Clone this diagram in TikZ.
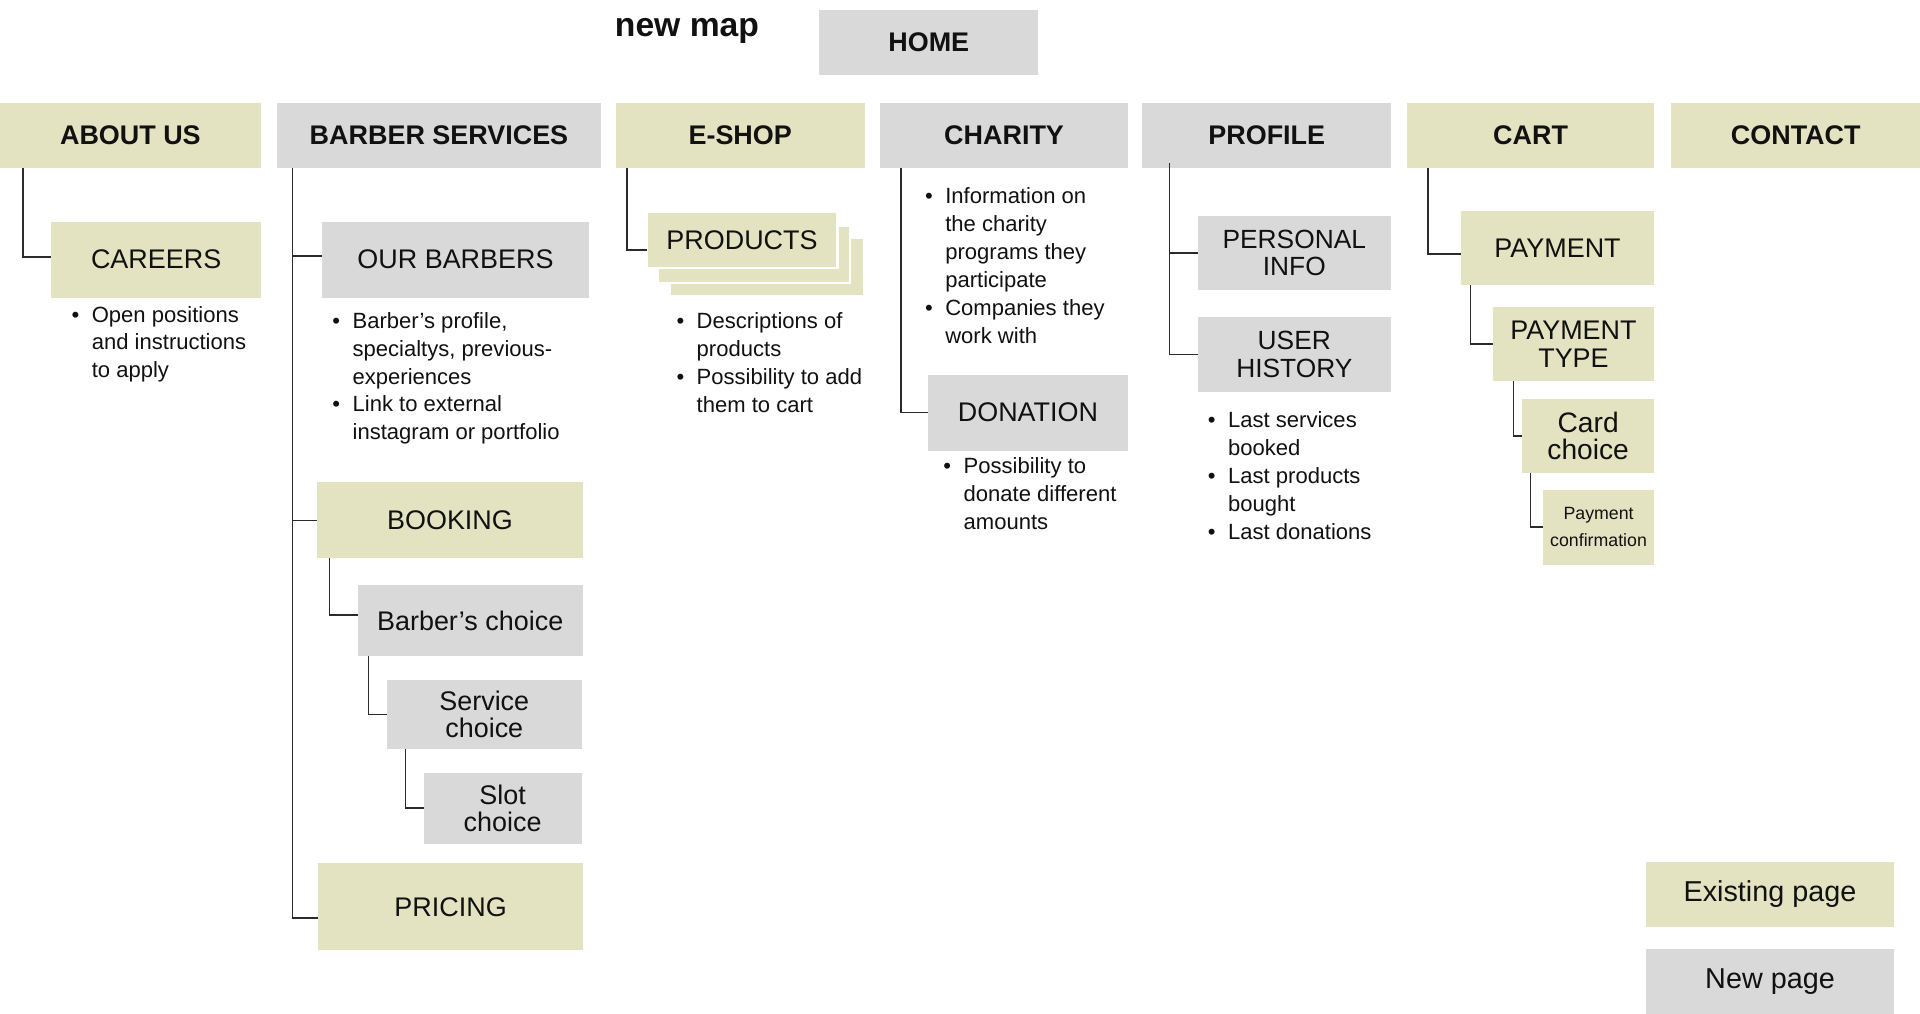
\documentclass[tikz,border=0pt]{standalone}
\usepackage{fontspec}
\setmainfont{Liberation Sans}
\usetikzlibrary{calc}
\definecolor{olive}{HTML}{E3E3C1}
\definecolor{greyc}{HTML}{D9D9D9}
\definecolor{ink}{HTML}{111111}
\definecolor{linec}{HTML}{2B2B2B}
\newcommand{\bulmark}{\makebox[16.5pt][l]{\textbullet}}
\begin{document}
\begin{tikzpicture}[x=1pt,y=-1pt,
  pg/.style={rectangle, inner sep=0pt, outer sep=0pt, anchor=north west, align=center, text=ink},
  oldpg/.style={pg, fill=olive},
  newpg/.style={pg, fill=greyc},
  hd/.style={font=\fontsize{22}{22}\selectfont\bfseries},
  lb/.style={font=\fontsize{22}{22.4}\selectfont},
  notes/.style={inner sep=0pt, outer sep=0pt, anchor=base west, text=ink, font=\fontsize{18}{22.8}\selectfont},
  wire/.style={draw=linec, line width=1.3pt}
]
\useasboundingbox[fill=white] (0,0) rectangle (1568,828);

% title and home
\node[anchor=base west, inner sep=0pt, text=ink, font=\fontsize{27.5}{28}\selectfont\bfseries] (title) at (502,29.4) {new map};
\node[newpg, hd, minimum width=179pt, minimum height=53pt] (home) at (669,8) {HOME};

% top row
\node[oldpg, hd, minimum width=213pt, minimum height=53pt] (about) at (0,84) {ABOUT US};
\node[newpg, hd, minimum width=265pt, minimum height=53pt] (barber) at (226,84) {BARBER SERVICES};
\node[oldpg, hd, minimum width=203pt, minimum height=53pt] (eshop) at (503,84) {E-SHOP};
\node[newpg, hd, minimum width=202pt, minimum height=53pt] (charity) at (719,84) {CHARITY};
\node[newpg, hd, minimum width=203pt, minimum height=53pt] (profile) at (933,84) {PROFILE};
\node[oldpg, hd, minimum width=202pt, minimum height=53pt] (cart) at (1149,84) {CART};
\node[oldpg, hd, minimum width=203pt, minimum height=53pt] (contact) at (1365,84) {CONTACT};

% about us
\node[oldpg, lb, minimum width=171pt, minimum height=62pt] (careers) at (42,181) {CAREERS};
\node[notes] (careersnotes) at (75-16.5,263) {\begin{tabular}[t]{@{}l@{}l@{}}\bulmark & Open positions\\ & and instructions\\ & to apply\end{tabular}};

% barber services
\node[newpg, lb, minimum width=218pt, minimum height=62pt] (ourb) at (263,181) {OUR BARBERS};
\node[notes] (ourbnotes) at (288-16.5,268) {\begin{tabular}[t]{@{}l@{}l@{}}\bulmark & Barber’s profile,\\ & specialtys, previous-\\ & experiences\\ \bulmark & Link to external\\ & instagram or portfolio\end{tabular}};
\node[oldpg, lb, minimum width=217pt, minimum height=62pt] (booking) at (259,394) {BOOKING};
\node[newpg, lb, minimum width=184pt, minimum height=58pt] (bchoice) at (292,478) {Barber’s choice};
\node[newpg, lb, minimum width=159pt, minimum height=57pt] (service) at (316,555) {Service\\choice};
\node[newpg, lb, minimum width=129pt, minimum height=58pt] (slot) at (346,631) {Slot\\choice};
\node[oldpg, lb, minimum width=216pt, minimum height=71pt] (pricing) at (260,705) {PRICING};

% e-shop
\node[oldpg, draw=white, line width=2pt, minimum width=159pt, minimum height=48pt] (prodc) at (547,194) {};
\node[oldpg, draw=white, line width=2pt, minimum width=157pt, minimum height=47pt] (prodb) at (537,184) {};
\node[oldpg, lb, draw=white, line width=2pt, minimum width=156pt, minimum height=46pt] (prod) at (528,173) {PRODUCTS};
\node[notes] (prodnotes) at (569-16.5,268.5) {\begin{tabular}[t]{@{}l@{}l@{}}\bulmark & Descriptions of\\ & products\\ \bulmark & Possibility to add\\ & them to cart\end{tabular}};

% charity
\node[notes] (charitynotes) at (772-16.5,166.5) {\begin{tabular}[t]{@{}l@{}l@{}}\bulmark & Information on\\ & the charity\\ & programs they\\ & participate\\ \bulmark & Companies they\\ & work with\end{tabular}};
\node[newpg, lb, minimum width=163pt, minimum height=62pt] (donation) at (758,306) {DONATION};
\node[notes] (donationnotes) at (787-16.5,386.5) {\begin{tabular}[t]{@{}l@{}l@{}}\bulmark & Possibility to\\ & donate different\\ & amounts\end{tabular}};

% profile
\node[newpg, font=\fontsize{21.5}{22.5}\selectfont, minimum width=158pt, minimum height=61pt] (personal) at (978,176) {PERSONAL\\INFO};
\node[newpg, font=\fontsize{21.5}{22.5}\selectfont, minimum width=158pt, minimum height=61pt] (history) at (978,259) {USER\\HISTORY};
\node[notes] (historynotes) at (1003-16.5,349.5) {\begin{tabular}[t]{@{}l@{}l@{}}\bulmark & Last services\\ & booked\\ \bulmark & Last products\\ & bought\\ \bulmark & Last donations\end{tabular}};

% cart
\node[oldpg, lb, minimum width=158pt, minimum height=61pt] (payment) at (1193,172) {PAYMENT};
\node[oldpg, lb, minimum width=132pt, minimum height=60pt] (ptype) at (1219,251) {PAYMENT\\TYPE};
\node[oldpg, font=\fontsize{23}{22.6}\selectfont, minimum width=108pt, minimum height=60pt] (card) at (1243,326) {Card\\choice};
\node[oldpg, font=\fontsize{14.5}{22}\selectfont, minimum width=91pt, minimum height=61pt] (confirm) at (1260,400) {Payment\\confirmation};

% legend
\node[oldpg, font=\fontsize{23.5}{24}\selectfont, minimum width=203pt, minimum height=53pt] (existing) at (1344,704) {Existing page};
\node[newpg, font=\fontsize{23.5}{24}\selectfont, minimum width=203pt, minimum height=53pt] (newpage) at (1344,775) {New page};

% connectors
\draw[wire] ($(about.south west)+(19,0)$) |- ($(careers.west)+(0,-2)$);

\coordinate (btr) at ($(barber.south west)+(13,0)$);
\draw[wire] (btr) |- ($(pricing.west)+(0,9)$);
\draw[wire] ($(btr |- ourb.west)+(0,-3)$) -- ($(ourb.west)+(0,-3)$);
\draw[wire] (btr |- booking.west) -- (booking.west);
\draw[wire] ($(booking.south west)+(10,0)$) |- ($(bchoice.west)+(0,-5)$);
\draw[wire] ($(bchoice.south west)+(9,0)$) |- (service.west);
\draw[wire] ($(service.south west)+(15,0)$) |- (slot.west);

\draw[wire] ($(eshop.south west)+(9,0)$) |- ($(prod.west)+(0,8)$);

\draw[wire] ($(charity.south west)+(17,0)$) |- (donation.west);

\coordinate (ptr) at ($(profile.south west)+(22,-4)$);
\draw[wire] (ptr) |- (history.west);
\draw[wire] (ptr |- personal.west) -- (personal.west);

\draw[wire] ($(cart.south west)+(17,0)$) |- ($(payment.west)+(0,5)$);
\draw[wire] ($(payment.south west)+(8,0)$) |- (ptype.west);
\draw[wire] ($(ptype.south west)+(17,0)$) |- (card.west);
\draw[wire] ($(card.south west)+(7,0)$) |- (confirm.west);
\end{tikzpicture}
\end{document}
